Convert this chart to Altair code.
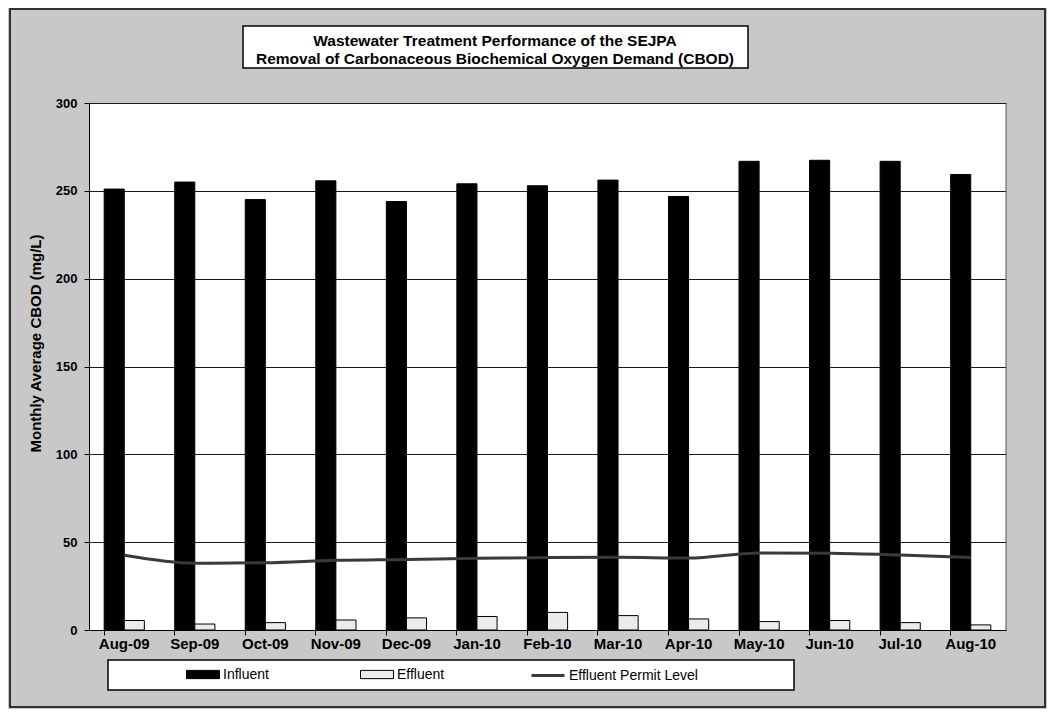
import altair as alt
import pandas as pd

# ---------------- data ----------------
months = ["Aug-09", "Sep-09", "Oct-09", "Nov-09", "Dec-09", "Jan-10", "Feb-10",
          "Mar-10", "Apr-10", "May-10", "Jun-10", "Jul-10", "Aug-10"]
influent = [251.0, 255.0, 245.0, 255.7, 243.9, 254.0, 252.9,
            256.1, 246.8, 266.8, 267.4, 266.8, 259.3]
effluent = [5.4, 3.4, 4.2, 5.7, 6.9, 7.7, 10.0,
            8.2, 6.3, 4.8, 5.4, 4.2, 2.9]
permit = [42.5, 38.0, 38.3, 39.7, 40.2, 40.8, 41.2,
          41.4, 41.0, 43.9, 43.7, 42.7, 41.3]
series_names = ["Influent", "Effluent", "Effluent Permit Level"]
y_ticks = [0, 50, 100, 150, 200, 250, 300]
title_lines = ["Wastewater Treatment Performance of the SEJPA",
               "Removal of Carbonaceous Biochemical Oxygen Demand (CBOD)"]
y_title = "Monthly Average CBOD (mg/L)"

FONT = "Liberation Sans"
W, H = 917, 527

bars_df = pd.DataFrame({
    "month": months * 2,
    "series": [series_names[0]] * len(months) + [series_names[1]] * len(months),
    "value": influent + effluent,
})
line_df = pd.DataFrame({"month": months, "series": series_names[2], "value": permit})
one = pd.DataFrame({"k": [0]})

xscale = alt.Scale(domain=months, paddingInner=0.43, paddingOuter=0.215)
y_enc = alt.Y(
    "value:Q",
    scale=alt.Scale(domain=[0, 300], nice=False),
    axis=alt.Axis(values=y_ticks, title=y_title, labelFont=FONT, labelFontSize=13,
                  labelFontWeight="bold", labelColor="black", labelPadding=7,
                  tickSize=5, tickColor="black", domainColor="black",
                  grid=True, gridColor="#1a1a1a", gridWidth=1,
                  titleFont=FONT, titleFontSize=15, titleFontWeight="bold",
                  titleColor="black", titleX=-54, titleY=240, titleAngle=270,
                  titleAlign="center", titleBaseline="middle"),
)

bars = alt.Chart(bars_df).mark_bar(stroke="black", strokeWidth=1).encode(
    x=alt.X("month:N", sort=months, scale=xscale,
            axis=alt.Axis(title=None, labelAngle=0, labelFont=FONT, labelFontSize=15,
                          labelFontWeight="bold", labelColor="black", ticks=False,
                          labelPadding=6, domainColor="black", grid=False)),
    xOffset=alt.XOffset("series:N", sort=series_names[:2],
                        scale=alt.Scale(domain=series_names[:2])),
    y=y_enc,
    color=alt.Color("series:N",
                    scale=alt.Scale(domain=series_names[:2], range=["#000000", "#ebebeb"]),
                    legend=alt.Legend(title=None, orient="none", legendX=97, legendY=554.5,
                                      direction="horizontal", columnPadding=89,
                                      gridAlign="none",
                                      symbolType="M-1,-0.25H1V0.25H-1Z", symbolSize=1089,
                                      symbolStrokeColor="black", symbolStrokeWidth=1,
                                      labelFont=FONT, labelFontSize=14, labelColor="black",
                                      labelOffset=3)),
)

line = alt.Chart(line_df).mark_line(strokeWidth=3, interpolate="monotone").encode(
    x=alt.X("month:N", sort=months, scale=xscale,
            axis=alt.Axis(orient="bottom", bandPosition=0, labels=False, domain=False,
                          ticks=True, tickSize=5, tickColor="black", title=None, grid=False)),
    y=y_enc,
    stroke=alt.Stroke("series:N",
                      scale=alt.Scale(domain=[series_names[2]], range=["#3a3a3a"]),
                      legend=alt.Legend(title=None, orient="none", legendX=441, legendY=554.5,
                                        symbolType="stroke", symbolSize=1089,
                                        symbolStrokeWidth=3,
                                        labelFont=FONT, labelFontSize=14, labelColor="black",
                                        labelOffset=3)),
)

# decorative frames (outer border, title box, legend box, plot right edge)
outer = alt.Chart(one).mark_rect(fill=None, stroke="black", strokeWidth=1.5).encode(
    x=alt.value(-79), x2=alt.value(956), y=alt.value(-94), y2=alt.value(604))
title_box = alt.Chart(one).mark_rect(fill="white", stroke="black", strokeWidth=1.5).encode(
    x=alt.value(154), x2=alt.value(659), y=alt.value(-77), y2=alt.value(-35))
legend_box = alt.Chart(one).mark_rect(fill="white", stroke="black", strokeWidth=1.5).encode(
    x=alt.value(19), x2=alt.value(705), y=alt.value(557), y2=alt.value(587))
right_edge = alt.Chart(one).mark_rule(color="#555555", strokeWidth=1).encode(
    x=alt.value(W), y=alt.value(0), y2=alt.value(H))

t1 = alt.Chart(pd.DataFrame({"t": [title_lines[0]]})).mark_text(
    font=FONT, fontSize=15.5, fontWeight="bold", color="black", align="center",
    baseline="alphabetic").encode(text="t:N", x=alt.value(406), y=alt.value(-57))
t2 = alt.Chart(pd.DataFrame({"t": [title_lines[1]]})).mark_text(
    font=FONT, fontSize=15.5, fontWeight="bold", color="black", align="center",
    baseline="alphabetic").encode(text="t:N", x=alt.value(406), y=alt.value(-39))

chart = alt.layer(outer, title_box, t1, t2, legend_box, right_edge, bars, line).resolve_axis(
    x="independent"
).resolve_legend(color="independent", stroke="independent").properties(
    width=W, height=H,
    padding={"left": 81, "top": 95, "right": 41, "bottom": 79},
    autosize=alt.AutoSizeParams(type="none"),
    background="#c8c8c8",
).configure_view(stroke=None, fill="white")

chart.save("out.html", embed_options={"renderer": "svg", "actions": False})
